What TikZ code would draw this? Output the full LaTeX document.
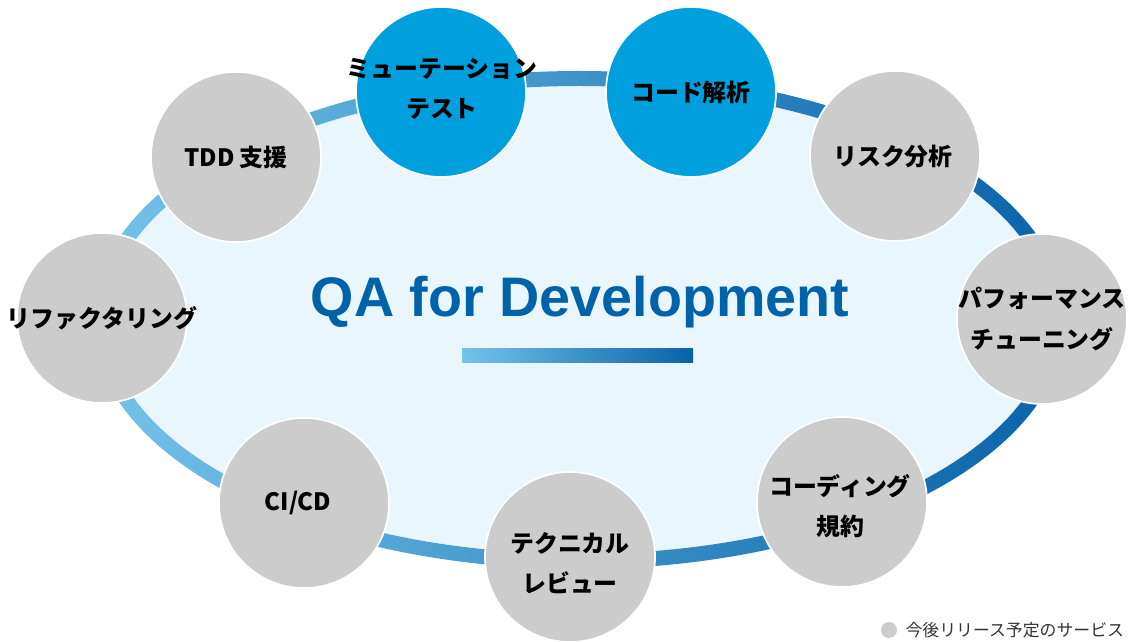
\documentclass[tikz,border=0pt]{standalone}
\usepackage{fontspec}
\setmainfont{Liberation Sans}
\newfontfamily\jpfont{Noto Sans CJK JP}
\usepackage{xcolor}
\usepackage{tikz}
\usetikzlibrary{positioning}

\definecolor{ringlight}{RGB}{116,195,233}
\definecolor{ringdark}{RGB}{8,98,168}
\definecolor{innerblue}{RGB}{234,246,253}
\definecolor{nowblue}{RGB}{0,160,222}
\definecolor{soongrey}{RGB}{204,204,204}
\definecolor{titleblue}{RGB}{0,98,169}

\begin{document}
\begin{tikzpicture}[x=0.025cm, y=-0.025cm,
    soon/.style={circle, fill=soongrey, draw=white, line width=1.2pt, minimum size=4.25cm, inner sep=0pt},
    now/.style={soon, fill=nowblue},
    lbl/.style={align=center, inner sep=0pt, font=\jpfont\bfseries\fontsize{17}{28.5}\selectfont}]
    \useasboundingbox (0,0) rectangle (1134,642);

    % Ring
    \fill[innerblue] (579,320) ellipse [x radius=476, y radius=238];
    \shade[even odd rule, left color=ringlight, right color=ringdark]
        (579,320) ellipse [x radius=487, y radius=249]
        (579,320) ellipse [x radius=472, y radius=234];

    % Title
    \node (title) [anchor=base, text=titleblue, font=\bfseries\fontsize{39.6}{40}\selectfont] at (580,317) {QA for Development};
    \shade[left color=ringlight, right color=ringdark] (462,349) rectangle (693,363);

    % Nodes
    \node (tdd) [soon] at (236,157) {};
    \node (mutation) [now] at (441,92) {};
    \node (code) [now] at (691,92) {};
    \node (risk) [soon] at (895,156) {};
    \node (perf) [soon] at (1042,319) {};
    \node (coding) [soon] at (842,502) {};
    \node (review) [soon] at (570,557) {};
    \node (cicd) [soon] at (304,503) {};
    \node (refactor) [soon] at (102,318) {};

    % Labels
    \node (tddtext) [lbl] at (tdd) {TDD 支援};
    \node (mutationtext) [lbl] at (442,89) {ミューテーション\\テスト};
    \node (codetext) [lbl] at (code) {コード解析};
    \node (risktext) [lbl] at (893,157) {リスク分析};
    \node (perftext) [lbl] at (perf) {パフォーマンス\\チューニング};
    \node (codingtext) [lbl] at (840,506) {コーディング\\規約};
    \node (reviewtext) [lbl] at (570,563) {テクニカル\\レビュー};
    \node (cicdtext) [lbl] at (298,503) {CI/CD};
    \node (refactortext) [lbl] at (refactor) {リファクタリング};

    % Legend
    \node (dot) [circle, fill=soongrey, minimum size=0.4cm, inner sep=0pt] at (889,630) {};
    \node (legend) [right=0.2cm of dot, inner sep=0pt, text=black!80, font=\jpfont\fontsize{12}{12}\selectfont] {今後リリース予定のサービス};
\end{tikzpicture}
\end{document}
